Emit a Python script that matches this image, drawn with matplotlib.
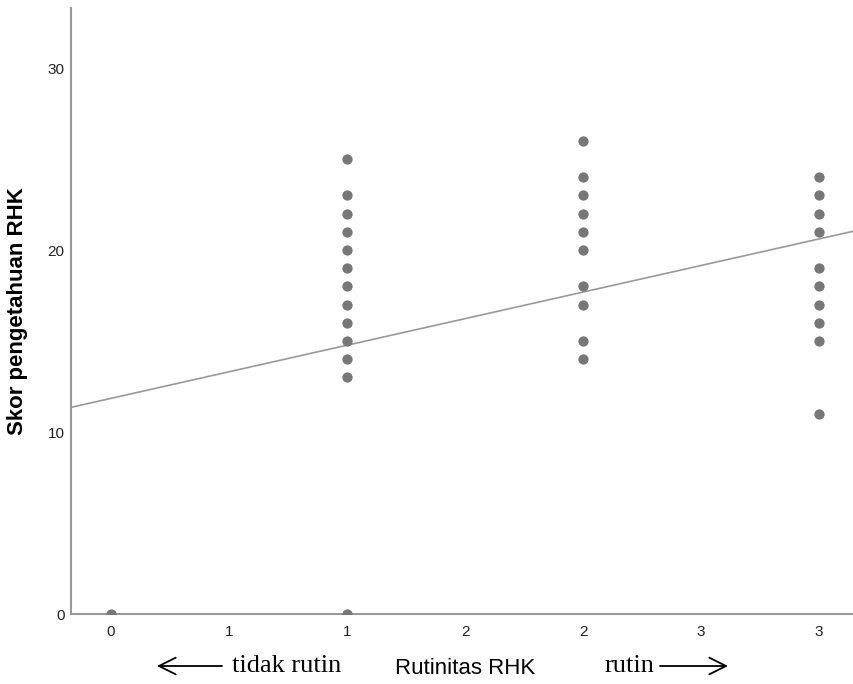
import matplotlib.pyplot as plt
from matplotlib.patches import FancyArrowPatch

# data
x_vals = [0, 1, 1, 1, 1, 1, 1, 1, 1, 1, 1, 1, 1, 1,
          2, 2, 2, 2, 2, 2, 2, 2, 2, 2,
          3, 3, 3, 3, 3, 3, 3, 3, 3, 3]
y_vals = [0, 0, 13, 14, 15, 16, 17, 18, 19, 20, 21, 22, 23, 25,
          14, 15, 17, 18, 20, 21, 22, 23, 24, 26,
          11, 15, 16, 17, 18, 19, 21, 22, 23, 24]
fit_intercept = 11.85
fit_slope = 2.92
x_ticks = [0, 0.5, 1, 1.5, 2, 2.5, 3]
x_tick_labels = ["0", "1", "1", "2", "2", "3", "3"]
y_ticks = [0, 10, 20, 30]

plt.rcParams['font.family'] = ['Liberation Sans', 'DejaVu Sans']

W, H = 854, 684
fig = plt.figure(figsize=(W / 100, H / 100), dpi=100)
ax = fig.add_axes([71 / W, 1 - 614 / H, 783 / W, 606 / H])

xmin, xmax = -0.1695, 3.148
ax.set_xlim(xmin, xmax)
ax.set_ylim(0, 33.3)

ax.scatter(x_vals, y_vals, s=55, color="#777777", zorder=3, linewidths=0)

# regression line
ax.plot([xmin, xmax], [fit_intercept + fit_slope * xmin, fit_intercept + fit_slope * xmax],
        color="#999999", linewidth=1.2, zorder=2)

ax.spines['top'].set_visible(False)
ax.spines['right'].set_visible(False)
for side in ['left', 'bottom']:
    ax.spines[side].set_color("#999999")
    ax.spines[side].set_linewidth(1.5)

ax.set_xticks(x_ticks)
ax.set_xticklabels(x_tick_labels)
ax.set_yticks(y_ticks)
ax.tick_params(length=0, labelsize=11, colors="#222222")
ax.tick_params(axis='x', pad=8)
ax.tick_params(axis='y', pad=4.5)

ax.set_ylabel("Skor pengetahuan RHK", fontsize=16, fontweight='bold')
ax.yaxis.set_label_coords(-0.055, 0.5)

fig.text(465 / W, 1 - 668 / H, "Rutinitas RHK", fontsize=16, ha='center', va='center')
fig.text(232 / W, 1 - 666 / H, "tidak rutin", fontsize=19, ha='left', va='center',
         family=['Liberation Serif', 'DejaVu Serif'])
fig.text(605 / W, 1 - 666 / H, "rutin", fontsize=19, ha='left', va='center',
         family=['Liberation Serif', 'DejaVu Serif'])

for start, end in [((222, 666), (157, 666)), ((660, 666), (728, 666))]:
    fig.patches.append(FancyArrowPatch(
        (start[0] / W, 1 - start[1] / H), (end[0] / W, 1 - end[1] / H),
        transform=fig.transFigure, arrowstyle='->,head_length=12,head_width=6',
        color='black', linewidth=1.3, mutation_scale=1, shrinkA=0, shrinkB=0))

fig.savefig("out.png", dpi=100)
